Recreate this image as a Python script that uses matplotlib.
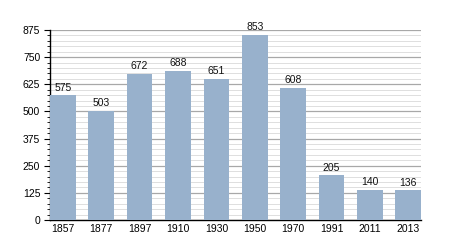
import matplotlib.pyplot as plt
from matplotlib.ticker import MultipleLocator

years = ['1857', '1877', '1897', '1910', '1930', '1950', '1970', '1991', '2011', '2013']
population = [575, 503, 672, 688, 651, 853, 608, 205, 140, 136]

plt.rcParams['font.family'] = ['Liberation Sans', 'DejaVu Sans']

fig = plt.figure(figsize=(4.5, 2.5), dpi=100)
ax = fig.add_axes([0.111, 0.12, 0.825, 0.76])

w = 0.67
x = range(len(years))
bars = ax.bar(x, population, width=w, color='#98b1cc', zorder=3)

for xi, v in zip(x, population):
    ax.text(xi, v + 12, str(v), ha='center', va='bottom', fontsize=7.5, color='#111111', zorder=4)

ax.set_xlim(-w / 2, len(years) - 1 + w / 2)
ax.set_ylim(0, 875)
ax.set_xticks(list(x))
ax.set_xticklabels(years)
ax.tick_params(axis='x', length=0, labelsize=7.5, pad=3)

ax.yaxis.set_major_locator(MultipleLocator(125))
ax.yaxis.set_minor_locator(MultipleLocator(25))
ax.tick_params(axis='y', which='major', length=4, width=0.8, labelsize=7.5, pad=3)
ax.tick_params(axis='y', which='minor', length=2, width=0.6)

ax.grid(axis='y', which='major', color='#a8a8a8', linewidth=0.9, zorder=1)
ax.grid(axis='y', which='minor', color='#dedede', linewidth=0.7, zorder=1)

ax.spines['top'].set_visible(False)
ax.spines['right'].set_visible(False)
ax.spines['left'].set_linewidth(1.0)
ax.spines['bottom'].set_linewidth(1.0)

fig.savefig('out.png', dpi=100)
